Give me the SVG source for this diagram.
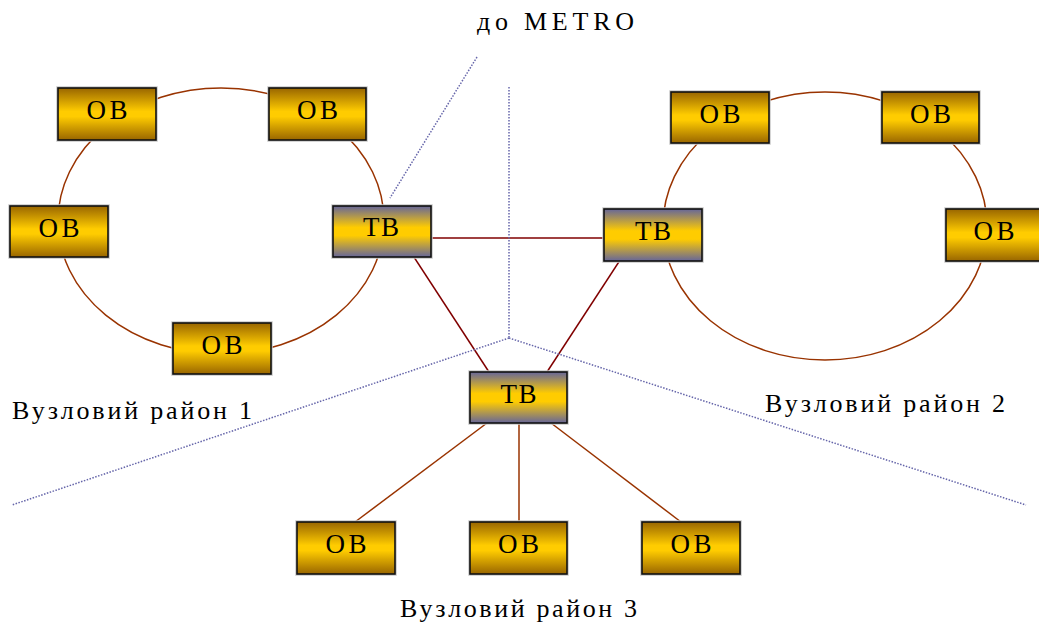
<svg xmlns="http://www.w3.org/2000/svg" width="1039" height="628" viewBox="0 0 1039 628">
<defs>
<linearGradient id="gOB" x1="0" y1="0" x2="0" y2="1">
<stop offset="0" stop-color="#996600"/>
<stop offset="0.45" stop-color="#FFCC00"/>
<stop offset="0.55" stop-color="#FFCC00"/>
<stop offset="1" stop-color="#996600"/>
</linearGradient>
<linearGradient id="gTB" x1="0" y1="0" x2="0" y2="1">
<stop offset="0" stop-color="#666699"/>
<stop offset="0.42" stop-color="#FFCC00"/>
<stop offset="0.58" stop-color="#FFCC00"/>
<stop offset="1" stop-color="#666699"/>
</linearGradient>
</defs>
<style>
.ob{fill:url(#gOB);stroke:#111;stroke-width:1.6}
.tb{fill:url(#gTB);stroke:#111;stroke-width:1.6}
.halo{fill:none;stroke:#c8c8c8;stroke-width:3.5}
.lbl{font-family:"Liberation Serif","DejaVu Serif",serif;font-size:27px;fill:#000;text-anchor:middle}
.cap{font-family:"Liberation Serif","DejaVu Serif",serif;font-size:26px;fill:#000}
.ring{fill:none;stroke:#993300;stroke-width:1.5}
.link{stroke:#800000;stroke-width:1.5;fill:none}
.spoke{stroke:#993300;stroke-width:1.5;fill:none}
.dot{stroke:#6666aa;stroke-width:1.5;stroke-dasharray:1.5 1.5;fill:none}
</style>
<g id="connectors">
<ellipse class="ring" cx="221" cy="221" rx="163" ry="133"/>
<ellipse class="ring" cx="825" cy="226" rx="162" ry="134"/>
<line class="link" x1="431" y1="238" x2="604" y2="238"/>
<line class="link" x1="412" y1="254" x2="489" y2="372"/>
<line class="link" x1="624" y1="254" x2="547" y2="372"/>
<line class="spoke" x1="487" y1="423" x2="355" y2="522"/>
<line class="spoke" x1="519" y1="423" x2="519" y2="522"/>
<line class="spoke" x1="551" y1="423" x2="681" y2="522"/>
<line class="dot" x1="477" y1="57" x2="390" y2="198"/>
<line class="dot" x1="509" y1="87" x2="509" y2="338"/>
<line class="dot" x1="509" y1="338" x2="12" y2="505"/>
<line class="dot" x1="509" y1="338" x2="1026" y2="505"/>
</g>
<g id="ob1"><rect class="halo" x="58" y="88" width="98" height="52"/><rect class="ob" x="58" y="88" width="98" height="52"/><text class="lbl" x="107" y="119" textLength="41" lengthAdjust="spacing">ОВ</text></g>
<g id="ob2"><rect class="halo" x="269" y="88" width="97" height="52"/><rect class="ob" x="269" y="88" width="97" height="52"/><text class="lbl" x="317.5" y="119" textLength="41" lengthAdjust="spacing">ОВ</text></g>
<g id="ob3"><rect class="halo" x="10" y="206" width="98" height="51"/><rect class="ob" x="10" y="206" width="98" height="51"/><text class="lbl" x="59" y="237" textLength="41" lengthAdjust="spacing">ОВ</text></g>
<g id="tb1"><rect class="halo" x="333" y="206" width="98" height="51"/><rect class="tb" x="333" y="206" width="98" height="51"/><text class="lbl" x="381" y="236" textLength="36" lengthAdjust="spacing">ТВ</text></g>
<g id="ob4"><rect class="halo" x="173" y="323" width="98" height="51"/><rect class="ob" x="173" y="323" width="98" height="51"/><text class="lbl" x="222" y="354" textLength="41" lengthAdjust="spacing">ОВ</text></g>
<g id="ob5"><rect class="halo" x="671" y="92" width="98" height="51"/><rect class="ob" x="671" y="92" width="98" height="51"/><text class="lbl" x="720" y="123" textLength="41" lengthAdjust="spacing">ОВ</text></g>
<g id="ob6"><rect class="halo" x="882" y="92" width="97" height="51"/><rect class="ob" x="882" y="92" width="97" height="51"/><text class="lbl" x="930.5" y="123" textLength="41" lengthAdjust="spacing">ОВ</text></g>
<g id="tb2"><rect class="halo" x="604" y="209" width="98" height="52"/><rect class="tb" x="604" y="209" width="98" height="52"/><text class="lbl" x="653" y="240" textLength="36" lengthAdjust="spacing">ТВ</text></g>
<g id="ob7"><rect class="halo" x="946" y="209" width="98" height="52"/><rect class="ob" x="946" y="209" width="98" height="52"/><text class="lbl" x="994" y="240" textLength="41" lengthAdjust="spacing">ОВ</text></g>
<g id="tb3"><rect class="halo" x="470" y="372" width="97" height="51"/><rect class="tb" x="470" y="372" width="97" height="51"/><text class="lbl" x="518.5" y="403" textLength="36" lengthAdjust="spacing">ТВ</text></g>
<g id="ob8"><rect class="halo" x="297" y="522" width="98" height="52"/><rect class="ob" x="297" y="522" width="98" height="52"/><text class="lbl" x="346" y="553" textLength="41" lengthAdjust="spacing">ОВ</text></g>
<g id="ob9"><rect class="halo" x="470" y="522" width="97" height="52"/><rect class="ob" x="470" y="522" width="97" height="52"/><text class="lbl" x="518.5" y="553" textLength="41" lengthAdjust="spacing">ОВ</text></g>
<g id="ob10"><rect class="halo" x="642" y="522" width="98" height="52"/><rect class="ob" x="642" y="522" width="98" height="52"/><text class="lbl" x="691" y="553" textLength="41" lengthAdjust="spacing">ОВ</text></g>
<g id="labels">
<text class="cap" x="477" y="30" textLength="157" lengthAdjust="spacing">до  METRO</text>
<text class="cap" x="12" y="419" textLength="240" lengthAdjust="spacing">Вузловий район 1</text>
<text class="cap" x="765" y="412" textLength="240" lengthAdjust="spacing">Вузловий район 2</text>
<text class="cap" x="400" y="617" textLength="237" lengthAdjust="spacing">Вузловий район 3</text>
</g>
</svg>
